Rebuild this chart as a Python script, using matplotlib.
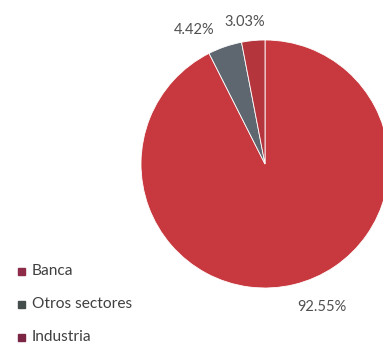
import matplotlib.pyplot as plt

sectores = ['Banca', 'Otros sectores', 'Industria']
porcentajes = [92.55, 4.42, 3.03]

colores = ['#C8393F', '#5E6670', '#B5353C']
colores_leyenda = ['#8E2B48', '#454D4C', '#7C2444']

fig = plt.figure(figsize=(3.83, 3.43), dpi=100)
ax = fig.add_axes([0, 0, 1, 1])

wedges, _ = ax.pie(porcentajes, colors=colores, startangle=90, counterclock=False,
                   center=(265, 164), radius=124, frame=True,
                   wedgeprops=dict(edgecolor='white', linewidth=0.6))
# the axis is flipped (y down), so mirror the wedges back
for w in wedges:
    t1, t2 = w.theta1, w.theta2
    w.set_theta1(-t2)
    w.set_theta2(-t1)
ax.set_xlim(0, 383)
ax.set_ylim(343, 0)
ax.set_aspect('equal')
ax.axis('off')

# percentage labels
pos_etiquetas = [(322, 307), (194, 30), (245, 22)]
for p, (x, y) in zip(porcentajes, pos_etiquetas):
    ax.text(x, y, f'{p:.2f}%', ha='center', va='center', fontsize=10.5,
            color='#505050', family='Lato')

# legend
for i, (s, c) in enumerate(zip(sectores, colores_leyenda)):
    y = 271 + i * 33
    ax.add_patch(plt.Rectangle((18, y - 3.5), 7, 7, color=c))
    ax.text(32, y, s, ha='left', va='center', fontsize=11.2, color='#404040',
            family='Lato')

fig.savefig('out.png', dpi=100)
